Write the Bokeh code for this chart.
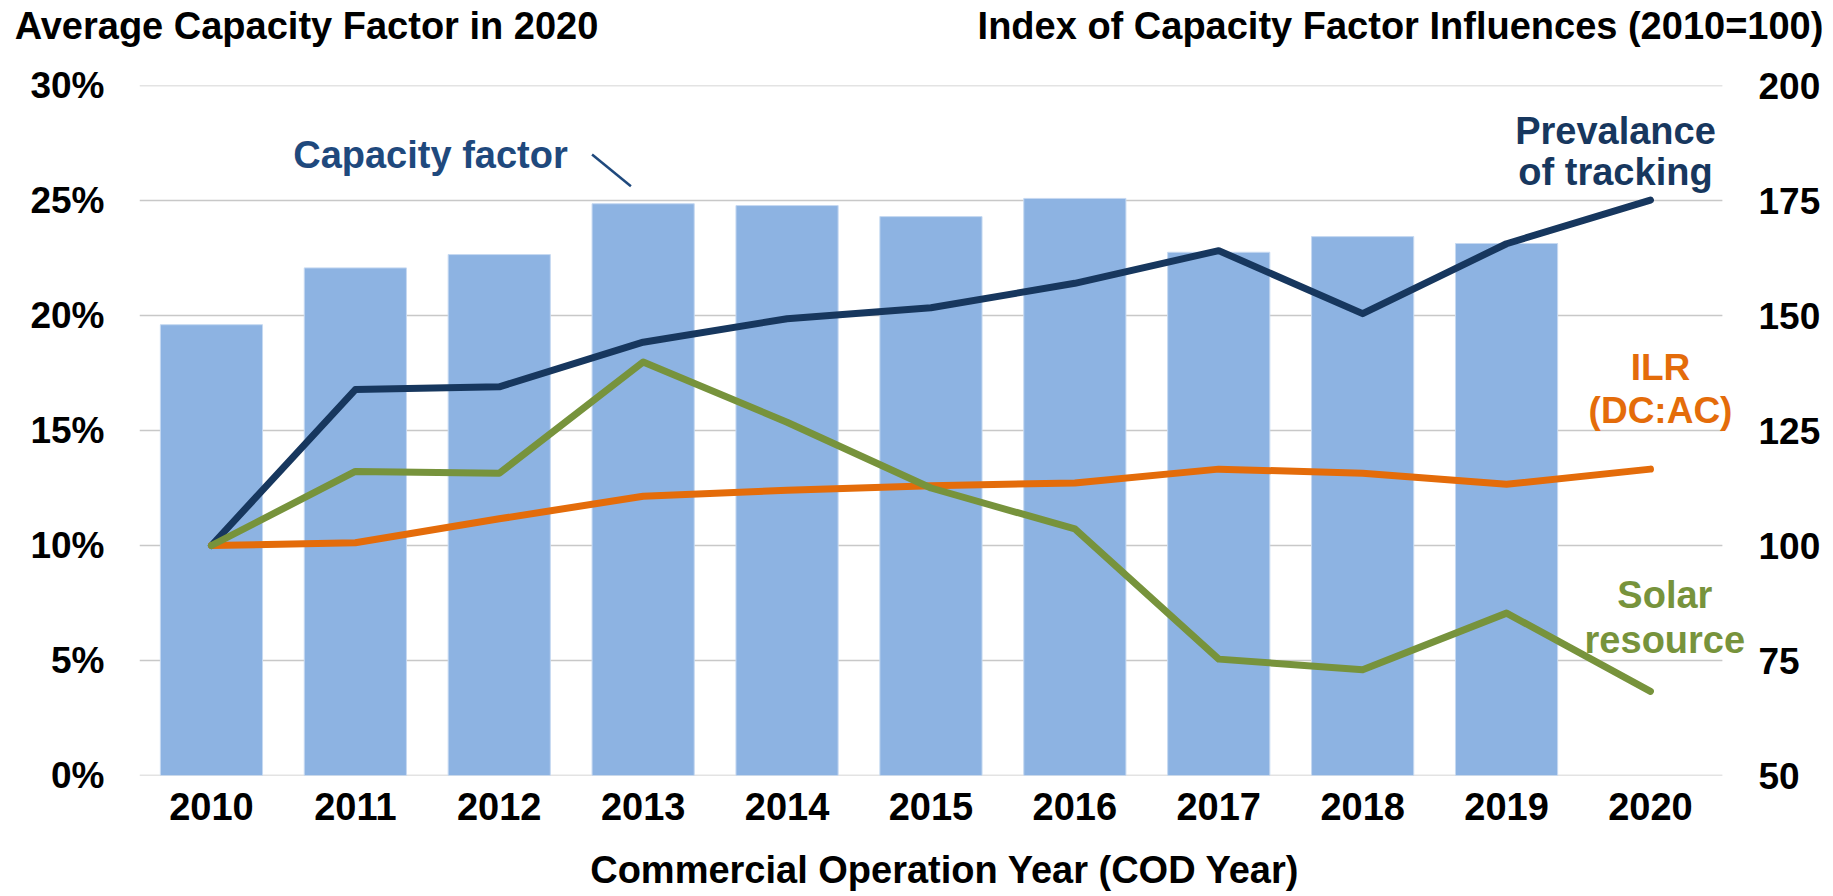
from bokeh.plotting import figure
from bokeh.models import (Range1d, LinearAxis, FixedTicker, Label,
                          ColumnDataSource, Arrow)
from bokeh.embed import file_html
from bokeh.resources import INLINE

# ---------------- data ----------------
years = ["2010", "2011", "2012", "2013", "2014", "2015", "2016", "2017", "2018", "2019", "2020"]
capacity_factor = [19.6, 22.07, 22.65, 24.86, 24.78, 24.3, 25.09, 22.75, 23.43, 23.13, None]
tracking_index = [100, 133.9, 134.5, 144.2, 149.3, 151.7, 157.0, 164.1, 150.4, 165.6, 175.1]
ilr_index = [100, 100.6, 105.8, 110.7, 112.0, 113.0, 113.6, 116.6, 115.7, 113.3, 116.6]
solar_index = [100, 116.1, 115.7, 139.9, 126.8, 112.5, 103.6, 75.3, 73.0, 85.3, 68.3]

left_ticks = [0, 5, 10, 15, 20, 25, 30]
left_tick_labels = ["0%", "5%", "10%", "15%", "20%", "25%", "30%"]
right_ticks = [50, 75, 100, 125, 150, 175, 200]
left_title = "Average Capacity Factor in 2020"
right_title = "Index of Capacity Factor Influences (2010=100)"
x_title = "Commercial Operation Year (COD Year)"

FONT = "Liberation Sans"
BAR_COLOR = "#8DB3E2"
BAR_EDGE = "#C6D9F1"
NAVY = "#17375E"
NAVY_TEXT = "#1F497D"
ORANGE = "#E46C0A"
GREEN = "#77933C"
GRID = "#C8C8C8"

# category centres on a numeric axis (one unit per category)
xs = [i + 0.5 for i in range(len(years))]
n_cat = len(years)

FRAME_L, FRAME_R, FRAME_T, FRAME_B = 139, 1750, 85, 775
W, H = 1833, 896

p = figure(width=W, height=H,
           x_range=Range1d(0, (FRAME_R - FRAME_L) / 143.9),
           y_range=Range1d(0, 30),
           output_backend="svg", toolbar_location=None,
           min_border_left=FRAME_L, min_border_right=W - FRAME_R,
           min_border_top=FRAME_T, min_border_bottom=H - FRAME_B)
p.title_location = None
p.extra_y_ranges = {"idx": Range1d(50, 200)}
p.extra_x_ranges = {"ttl": Range1d(FRAME_L, FRAME_R)}
p.outline_line_color = None
p.background_fill_color = "white"
p.xgrid.visible = False
p.ygrid.visible = False

# horizontal gridlines across the category area only
p.segment(x0=[0] * len(left_ticks), x1=[n_cat] * len(left_ticks),
          y0=left_ticks, y1=left_ticks, line_color=GRID, line_width=1.3)

# bars
bar_src = ColumnDataSource(dict(x=xs, top=[v if v is not None else float("nan") for v in capacity_factor]))
p.vbar(x="x", top="top", width=0.71, source=bar_src, fill_color=BAR_COLOR,
       line_color=BAR_EDGE, line_width=1)

# lines
for vals, col in [(tracking_index, NAVY), (ilr_index, ORANGE), (solar_index, GREEN)]:
    p.line(x=xs, y=vals, y_range_name="idx", line_color=col, line_width=7,
           line_join="round", line_cap="round")

# axes
def style_axis(ax, size):
    ax.axis_line_color = None
    ax.major_tick_line_color = None
    ax.minor_tick_line_color = None
    ax.major_tick_out = 0
    ax.major_tick_in = 0
    ax.major_label_text_font = FONT
    ax.major_label_text_font_style = "bold"
    ax.major_label_text_font_size = size
    ax.major_label_text_color = "black"

yl = p.yaxis[0]
yl.ticker = FixedTicker(ticks=left_ticks)
yl.major_label_overrides = {t: s for t, s in zip(left_ticks, left_tick_labels)}
style_axis(yl, "37px")
yl.major_label_standoff = 35

yr = LinearAxis(y_range_name="idx", ticker=FixedTicker(ticks=right_ticks))
style_axis(yr, "37px")
yr.major_label_standoff = 8
p.add_layout(yr, "right")

xa = p.xaxis[0]
xa.ticker = FixedTicker(ticks=xs)
xa.major_label_overrides = {x: y for x, y in zip(xs, years)}
style_axis(xa, "38px")
xa.major_label_standoff = 17
xa.axis_label = x_title
xa.axis_label_text_font = FONT
xa.axis_label_text_font_style = "bold"
xa.axis_label_text_font_size = "38px"
xa.axis_label_text_color = "black"
xa.axis_label_standoff = 26

# the two headings above the chart, centred at their horizontal positions
title_centres = [306, 1400]
ta = LinearAxis(x_range_name="ttl", ticker=FixedTicker(ticks=title_centres))
ta.major_label_overrides = {title_centres[0]: left_title, title_centres[1]: right_title}
style_axis(ta, "38px")
ta.major_label_standoff = 39
p.add_layout(ta, "above")

# annotations (positions in category units / left-axis units)
def add_label(text, x, y, color, size="38px"):
    p.add_layout(Label(x=x, y=y, text=text, text_font=FONT, text_font_style="bold",
                       text_font_size=size, text_color=color, text_align="center",
                       text_baseline="alphabetic"))

add_label("Capacity factor", 2.022, 27.0, NAVY_TEXT)
add_label("Prevalance", 10.257, 28.04, NAVY)
add_label("of tracking", 10.257, 26.22, NAVY)
add_label("ILR", 10.57, 17.74, ORANGE, "37px")
add_label("(DC:AC)", 10.57, 15.87, ORANGE, "37px")
add_label("Solar", 10.60, 7.83, GREEN)
add_label("resource", 10.60, 5.91, GREEN)

p.add_layout(Arrow(end=None, x_start=3.145, y_start=27.0, x_end=3.415, y_end=25.62,
                   line_color=NAVY_TEXT, line_width=2.5))

open("out.html", "w").write(file_html(p, INLINE))
